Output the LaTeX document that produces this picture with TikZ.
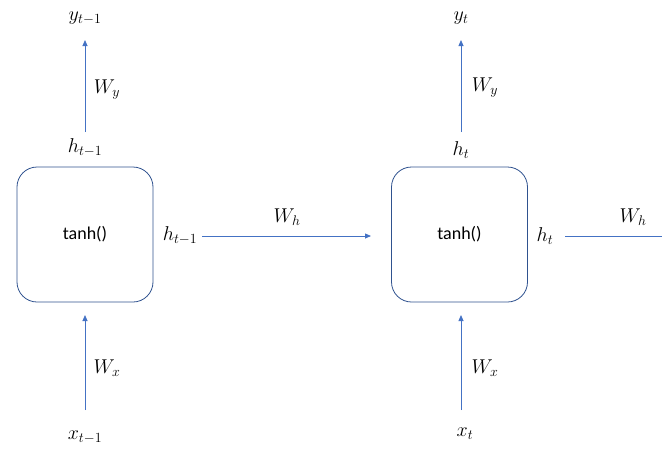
\RequirePackage{fix-cm}
\documentclass[tikz,border=0pt]{standalone}
\usepackage{fontspec}
\newfontfamily\calib{Carlito}
\usetikzlibrary{arrows.meta}
\definecolor{lineblue}{HTML}{4472C4}
\definecolor{boxblue}{HTML}{2F528F}
\begin{document}
\begin{tikzpicture}[x=1pt,y=-1pt,
  cell/.style={draw=boxblue, line width=0.8pt, rounded corners=20pt, minimum width=136pt, minimum height=135pt, font=\calib\fontsize{18}{20}\selectfont},
  lab/.style={inner sep=0pt, font=\fontsize{20}{22}\selectfont},
  conn/.style={draw=lineblue, line width=0.8pt, -{Triangle[length=6pt,width=5pt]}},
  plain/.style={draw=lineblue, line width=0.8pt}]
\useasboundingbox (0,0) rectangle (665,456);
% cells
\node[cell] (c1) at (85,234.5) {tanh()};
\node[cell] (c2) at (459.5,234.5) {tanh()};
% left column
\node[lab] (y1) at (85,18) {$y_{t-1}$};
\node[lab] (h1top) at (85,148) {$h_{t-1}$};
\coordinate (a1s) at (85,132);
\coordinate (a1e) at (85,40);
\draw[conn] (a1s) -- (a1e);
\node[lab] (wy1) at (107,90) {$W_y$};
\coordinate (b1s) at (85,410);
\coordinate (b1e) at (85,315);
\draw[conn] (b1s) -- (b1e);
\node[lab] (wx1) at (107,368) {$W_x$};
\node[lab] (x1) at (85,437) {$x_{t-1}$};
% right column
\node[lab] (y2) at (461,18) {$y_t$};
\node[lab] (h2top) at (461,150) {$h_t$};
\coordinate (a2s) at (461,132);
\coordinate (a2e) at (461,40);
\draw[conn] (a2s) -- (a2e);
\node[lab] (wy2) at (485,88) {$W_y$};
\coordinate (b2s) at (461,410);
\coordinate (b2e) at (461,315);
\draw[conn] (b2s) -- (b2e);
\node[lab] (wx2) at (485,368) {$W_x$};
\node[lab] (x2) at (465,434) {$x_t$};
% horizontal
\node[lab] (h1) at (180,236) {$h_{t-1}$};
\coordinate (hs) at (202,236);
\coordinate (he) at (371,236);
\draw[conn] (hs) -- (he);
\node[lab] (wh1) at (287,217) {$W_h$};
\node[lab] (h2) at (545,236) {$h_t$};
\coordinate (ls) at (565,236);
\coordinate (le) at (662,236);
\draw[plain] (ls) -- (le);
\node[lab] (wh2) at (633,217) {$W_h$};
\end{tikzpicture}
\end{document}
